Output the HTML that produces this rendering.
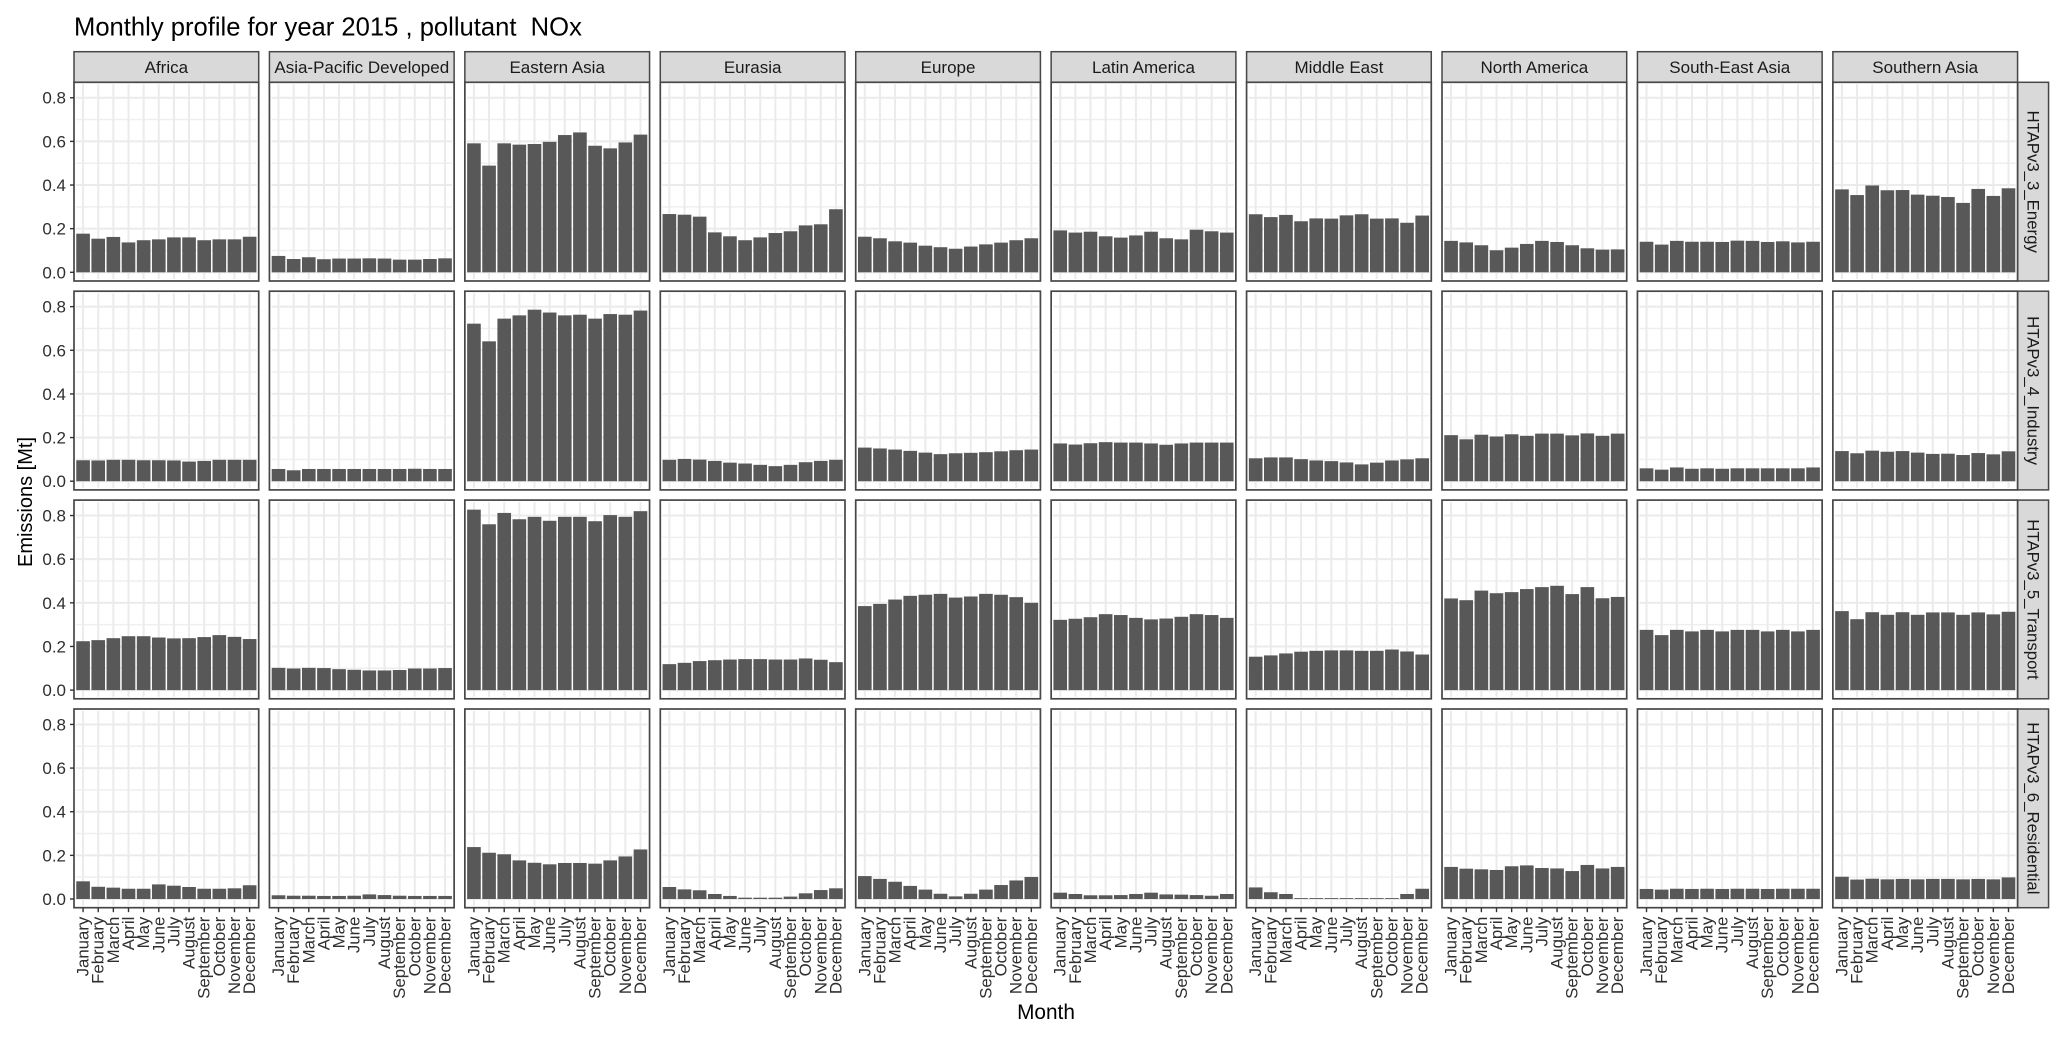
<!DOCTYPE html>
<html lang="en">
<head>
<meta charset="utf-8">
<title>Monthly profile for year 2015, pollutant NOx</title>
<style>
  html, body { margin: 0; padding: 0; background: #ffffff; }
  svg { display: block; font-family: "Liberation Sans", Arial, sans-serif; }
</style>
</head>
<body>
<svg id="chart" xmlns="http://www.w3.org/2000/svg" width="2067" height="1038" viewBox="0 0 2067 1038">
  <rect x="0" y="0" width="2067" height="1038" fill="#ffffff"/>
  <text x="74" y="35.5" font-size="25.6" fill="#000000" xml:space="preserve" style="white-space:pre">Monthly profile for year 2015 , pollutant  NOx</text>
  <text x="1046" y="1019" font-size="20.8" fill="#000000" text-anchor="middle">Month</text>
  <text transform="translate(32 502) rotate(-90)" font-size="20" fill="#000000" text-anchor="middle">Emissions [Mt]</text>
</svg>
<script>
const regions = ["Africa","Asia-Pacific Developed","Eastern Asia","Eurasia","Europe","Latin America","Middle East","North America","South-East Asia","Southern Asia"];
const sectors = ["HTAPv3_3_Energy","HTAPv3_4_Industry","HTAPv3_5_Transport","HTAPv3_6_Residential"];
const months = ["January","February","March","April","May","June","July","August","September","October","November","December"];
const yTicks = ["0.0","0.2","0.4","0.6","0.8"];
const yMinorTicks = [0.1,0.3,0.5,0.7];

const energyValues = [
  [.177,.154,.162,.137,.147,.151,.160,.160,.147,.151,.151,.163],
  [.075,.061,.069,.060,.063,.063,.064,.063,.058,.058,.061,.064],
  [.591,.489,.591,.585,.588,.598,.629,.641,.580,.568,.595,.631],
  [.267,.264,.255,.183,.165,.147,.160,.180,.188,.215,.220,.289],
  [.163,.156,.142,.136,.122,.115,.108,.118,.128,.136,.147,.156],
  [.192,.182,.186,.165,.159,.169,.186,.156,.151,.195,.188,.182],
  [.266,.253,.263,.234,.247,.246,.261,.266,.246,.247,.227,.260],
  [.144,.137,.124,.101,.113,.130,.144,.139,.124,.110,.104,.105],
  [.140,.127,.144,.140,.140,.139,.145,.144,.139,.142,.137,.140],
  [.380,.354,.398,.376,.377,.356,.351,.345,.318,.382,.350,.385]
];
const industryValues = [
  [.096,.095,.098,.098,.096,.096,.095,.090,.093,.098,.098,.098],
  [.056,.050,.056,.056,.056,.056,.056,.056,.056,.057,.056,.056],
  [.722,.641,.745,.760,.786,.773,.760,.763,.745,.766,.763,.782],
  [.098,.102,.099,.093,.085,.081,.075,.069,.075,.087,.093,.098],
  [.154,.150,.145,.139,.131,.124,.128,.130,.133,.137,.142,.145],
  [.173,.168,.174,.179,.177,.177,.173,.167,.173,.177,.177,.177],
  [.105,.109,.109,.101,.095,.092,.086,.077,.085,.095,.100,.105],
  [.211,.192,.213,.205,.215,.208,.218,.218,.210,.219,.208,.218],
  [.059,.053,.063,.057,.059,.057,.059,.059,.059,.059,.059,.063],
  [.138,.128,.140,.135,.138,.131,.125,.126,.120,.129,.123,.137]
];
const transportValues = [
  [.224,.229,.238,.247,.247,.241,.237,.238,.243,.252,.244,.234],
  [.102,.099,.102,.101,.096,.093,.090,.090,.092,.099,.099,.101],
  [.827,.760,.812,.783,.794,.776,.794,.794,.774,.802,.794,.820],
  [.119,.125,.133,.137,.140,.142,.142,.140,.140,.145,.139,.128],
  [.385,.395,.415,.432,.437,.441,.424,.429,.441,.437,.426,.400],
  [.322,.327,.334,.348,.344,.331,.324,.328,.336,.348,.344,.331],
  [.153,.159,.168,.176,.180,.182,.182,.180,.180,.186,.177,.163],
  [.420,.412,.456,.444,.449,.463,.472,.478,.440,.472,.421,.427],
  [.276,.252,.276,.269,.276,.269,.276,.276,.269,.276,.269,.276],
  [.362,.325,.357,.345,.357,.345,.356,.356,.345,.356,.347,.359]
];
const residentialValues = [
  [.081,.056,.052,.047,.047,.067,.061,.055,.047,.047,.049,.063],
  [.017,.015,.015,.014,.014,.015,.021,.018,.015,.014,.014,.014],
  [.238,.212,.205,.177,.166,.159,.165,.165,.162,.177,.195,.227],
  [.055,.044,.040,.023,.014,.006,.006,.006,.011,.026,.041,.049],
  [.105,.092,.079,.060,.043,.024,.012,.024,.043,.064,.085,.101],
  [.029,.023,.017,.017,.018,.023,.029,.021,.020,.018,.015,.023],
  [.053,.031,.023,.004,.004,.004,.004,.004,.004,.004,.023,.047],
  [.147,.139,.136,.133,.150,.154,.142,.140,.128,.156,.140,.147],
  [.046,.043,.047,.046,.047,.046,.047,.047,.046,.047,.047,.047],
  [.102,.089,.093,.090,.092,.090,.092,.092,.090,.092,.090,.099]
];
const sectorValues = [energyValues, industryValues, transportValues, residentialValues];

const svg = document.getElementById('chart');
const NS = 'http://www.w3.org/2000/svg';
const plotLeft = 74, plotTop = 82.3;
const panelW = 184.7, panelH = 198.7, colPitch = 195.43, rowPitch = 208.9;
const stripTop = 51.7, stripH = 30.6, rStripW = 31;
const border = '#474747', gridMajor = '#ebebeb', gridMinor = '#efefef', barFill = '#585858', inkAxis = '#333333';
const tickFont = 17, barFrac = 0.9;

function make(tag, attrs, parent, text) {
  const el = document.createElementNS(NS, tag);
  for (const k in attrs) el.setAttribute(k, attrs[k]);
  if (text !== undefined) el.textContent = text;
  parent.appendChild(el);
  return el;
}
function panelX(c) { return plotLeft + c * colPitch; }
function panelY(r) { return plotTop + r * rowPitch; }
function xScale(c, m) { return panelX(c) + (m + 0.6) * panelW / 12.2; }
function yScale(r, v) { return panelY(r) + 190 - v * 218.2; }
function kebab(s) { return s.toLowerCase().replace(/[^a-z0-9]+/g, '-'); }

regions.forEach(function (region, c) {
  const strip = make('rect', {x: panelX(c), y: stripTop, width: panelW, height: stripH, fill: '#d9d9d9', stroke: border, 'stroke-width': 1.5}, svg);
  
  
  const label = make('text', {x: panelX(c) + panelW / 2, y: stripTop + 21.3, 'font-size': tickFont, fill: '#1a1a1a', 'text-anchor': 'middle'}, svg, region);
  
  
});

sectors.forEach(function (sector, r) {
  const sy = panelY(r);
  const strip = make('rect', {x: panelX(9) + panelW, y: sy, width: rStripW, height: panelH, fill: '#d9d9d9', stroke: border, 'stroke-width': 1.5}, svg);
  
  
  const label = make('text', {transform: 'translate(' + (panelX(9) + panelW + 9.7) + ' ' + (sy + panelH / 2) + ') rotate(90)', 'font-size': 16.8, fill: '#1a1a1a', 'text-anchor': 'middle'}, svg, sector);
  
  

  regions.forEach(function (region, c) {
    const px = panelX(c), py = panelY(r);
    const g = make('g', {}, svg);
    
    
    const bg = make('rect', {x: px, y: py, width: panelW, height: panelH, fill: '#ffffff'}, g);
    
    

    yMinorTicks.forEach(function (t) {
      const ln = make('line', {x1: px + 2, x2: px + panelW - 2, y1: yScale(r, t), y2: yScale(r, t), stroke: gridMinor, 'stroke-width': 1.5}, g);
      
      
    });
    yTicks.forEach(function (t) {
      const v = parseFloat(t);
      const ln = make('line', {x1: px + 2, x2: px + panelW - 2, y1: yScale(r, v), y2: yScale(r, v), stroke: gridMajor, 'stroke-width': 2}, g);
      
      
    });
    months.forEach(function (m, i) {
      const ln = make('line', {x1: xScale(c, i), x2: xScale(c, i), y1: py + 2, y2: py + panelH - 2, stroke: gridMajor, 'stroke-width': 2}, g);
      
      
    });

    const bw = barFrac * panelW / 12.2;
    sectorValues[r][c].forEach(function (val, i) {
      const yTop = yScale(r, val);
      const bar = make('rect', {x: xScale(c, i) - bw / 2, y: yTop, width: bw, height: yScale(r, 0) - yTop, fill: barFill}, g);
      
      
    });

    const frame = make('rect', {x: px, y: py, width: panelW, height: panelH, fill: 'none', stroke: border, 'stroke-width': 1.7}, g);
    
    

    if (c === 0) {
      yTicks.forEach(function (t) {
        const v = parseFloat(t);
        const tick = make('line', {x1: px - 4, x2: px, y1: yScale(r, v), y2: yScale(r, v), stroke: inkAxis, 'stroke-width': 1.4}, svg);
        
        
        const lab = make('text', {x: px - 8, y: yScale(r, v) + 6, 'font-size': tickFont, fill: '#2e2e2e', 'text-anchor': 'end'}, svg, t);
        
        
      });
    }
    if (r === sectors.length - 1) {
      months.forEach(function (m, i) {
        const tx = xScale(c, i);
        const tick = make('line', {x1: tx, x2: tx, y1: py + panelH, y2: py + panelH + 4.5, stroke: inkAxis, 'stroke-width': 1.4}, svg);
        
        
        const lab = make('text', {transform: 'translate(' + (tx + 5.5) + ' 916.7) rotate(-90)', 'font-size': 16.8, fill: '#2e2e2e', 'text-anchor': 'end'}, svg, m);
        
        
      });
    }
  });
});
</script>
</body>
</html>
